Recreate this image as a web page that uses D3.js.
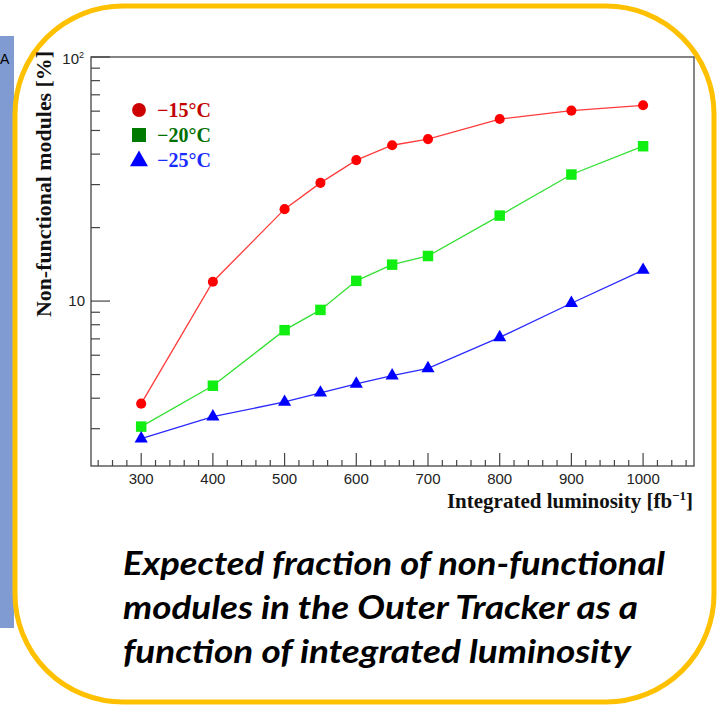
<!DOCTYPE html>
<meta charset="utf-8">
<style>
body { margin: 0; background: #fff; }
svg { display: block; }
.tick-label { font: 15px "Liberation Sans", Arial, sans-serif; fill: #222; }
.axis-title { font: bold 21px "Liberation Serif", "Times New Roman", serif; fill: #111; }
.legend text { font: bold 20px "Liberation Serif", "Times New Roman", serif; }
.caption { font: italic bold 33px Lato, "Open Sans", sans-serif; fill: #000; }
</style>
<svg width="718" height="706"></svg>
<script src="https://d3js.org/d3.v7.min.js"></script>
<script>

var svg = d3.select("svg"),
    width = +svg.attr("width"),
    height = +svg.attr("height");

// data (percent of non-functional modules)
var lumi = [300, 400, 500, 550, 600, 650, 700, 800, 900, 1000];
var minus15 = [3.8, 12.0, 23.8, 30.5, 37.8, 43.5, 46.1, 55.7, 60.3, 63.4];
var minus20 = [3.06, 4.5, 7.6, 9.2, 12.1, 14.1, 15.3, 22.4, 33.0, 43.1];
var minus25 = [2.73, 3.36, 3.86, 4.21, 4.58, 4.95, 5.3, 7.1, 9.8, 13.4];
var seriesNames = ["\u221215\u00b0C", "\u221220\u00b0C", "\u221225\u00b0C"];
var xTicks = [300, 400, 500, 600, 700, 800, 900, 1000];

var frame = {left: 91, right: 694, top: 57, bottom: 466};

// left blue strip and "A" from the slide behind
svg.append("rect")
    .attr("x", 0).attr("y", 36)
    .attr("width", 14).attr("height", 592)
    .attr("fill", "#7f9bd1");
svg.append("text")
    .attr("x", 0).attr("y", 64)
    .style("font", "14px 'Liberation Sans', Arial, sans-serif")
    .text("A");

// rounded yellow box
svg.append("rect")
    .attr("x", 15).attr("y", 6)
    .attr("width", 699).attr("height", 696)
    .attr("rx", 108).attr("ry", 108)
    .attr("fill", "#fff")
    .attr("stroke", "#ffc000")
    .attr("stroke-width", 5);

var x = d3.scaleLinear()
    .domain([230, 1071])
    .range([frame.left, frame.right]);

var y = d3.scaleLog()
    .domain([2.11, 100])
    .range([frame.bottom, frame.top]);

var g = svg.append("g");

// frame
g.append("rect")
    .attr("x", frame.left).attr("y", frame.top)
    .attr("width", frame.right - frame.left)
    .attr("height", frame.bottom - frame.top)
    .attr("fill", "none")
    .attr("stroke", "#444")
    .attr("stroke-width", 1.3);

// y axis ticks (inward)
var yMinor = d3.range(3, 10).concat(d3.range(20, 100, 10));
var yMajor = [10, 100];
g.selectAll(".ymin").data(yMinor).enter().append("line")
    .attr("x1", frame.left).attr("x2", frame.left + 9)
    .attr("y1", y).attr("y2", y)
    .attr("stroke", "#444").attr("stroke-width", 1.2);
g.selectAll(".ymaj").data(yMajor).enter().append("line")
    .attr("x1", frame.left).attr("x2", frame.left + 19)
    .attr("y1", y).attr("y2", y)
    .attr("stroke", "#444").attr("stroke-width", 1.2);

g.append("text").attr("class", "tick-label")
    .attr("x", 85).attr("y", y(10) + 5)
    .attr("text-anchor", "end")
    .text("10");
var t100 = g.append("text").attr("class", "tick-label")
    .attr("x", 84).attr("y", y(100) + 7)
    .attr("text-anchor", "end");
t100.append("tspan").text("10");
t100.append("tspan").attr("dy", -6).style("font-size", "9px").text("2");

// x axis ticks (inward)
var xMinor = d3.range(240, 1070, 20);
g.selectAll(".xmin").data(xMinor).enter().append("line")
    .attr("x1", x).attr("x2", x)
    .attr("y1", frame.bottom).attr("y2", function(d) { return frame.bottom - (d % 100 === 0 ? 13 : 6); })
    .attr("stroke", "#444").attr("stroke-width", 1.2);
g.selectAll(".xlab").data(xTicks).enter().append("text")
    .attr("class", "tick-label")
    .attr("x", x).attr("y", 484)
    .attr("text-anchor", "middle")
    .text(function(d) { return d; });

// axis titles
var xt = g.append("text").attr("class", "axis-title")
    .attr("x", 693).attr("y", 508)
    .attr("text-anchor", "end");
xt.append("tspan").text("Integrated luminosity [fb");
xt.append("tspan").attr("dy", -8).style("font-size", "13px").text("\u22121");
xt.append("tspan").attr("dy", 8).text("]");

g.append("text").attr("class", "axis-title")
    .attr("transform", "translate(51,184) rotate(-90)")
    .attr("text-anchor", "middle")
    .attr("textLength", 266)
    .attr("lengthAdjust", "spacingAndGlyphs")
    .text("Non-functional modules [%]");

// series
var series = [
  {vals: minus15, line: "#ff3b3b", mark: "#ff0000", shape: d3.symbolCircle, size: 80},
  {vals: minus20, line: "#33e033", mark: "#11ee11", shape: d3.symbolSquare, size: 110},
  {vals: minus25, line: "#2a2aff", mark: "#0000ff", shape: d3.symbolTriangle, size: 75}
];

var line = d3.line()
    .x(function(d) { return x(d[0]); })
    .y(function(d) { return y(d[1]); });

series.forEach(function(s) {
  var pts = lumi.map(function(l, i) { return [l, s.vals[i]]; });
  g.append("path")
      .attr("d", line(pts))
      .attr("fill", "none")
      .attr("stroke", s.line)
      .attr("stroke-width", 1.3);
  g.selectAll(null).data(pts).enter().append("path")
      .attr("transform", function(d) { return "translate(" + x(d[0]) + "," + y(d[1]) + ")"; })
      .attr("d", d3.symbol().type(s.shape).size(s.size))
      .attr("fill", s.mark);
});

// legend
var legendMark = ["#cc0000", "#007a00", "#0000ff"];
var legendText = ["#c00000", "#007000", "#1a2cff"];
var legendShape = [d3.symbolCircle, d3.symbolSquare, d3.symbolTriangle];
var legendSize = [150, 196, 140];
var legend = g.append("g").attr("class", "legend");
seriesNames.forEach(function(name, i) {
  var yy = 110 + i * 25;
  legend.append("path")
      .attr("transform", "translate(139," + (yy + (i === 2 ? 1 : 0)) + ")")
      .attr("d", d3.symbol().type(legendShape[i]).size(legendSize[i]))
      .attr("fill", legendMark[i]);
  legend.append("text")
      .attr("x", 157).attr("y", yy + 7)
      .attr("fill", legendText[i])
      .text(name);
});

// caption
var caption = [
  "Expected fraction of non-functional",
  "modules in the Outer Tracker as a",
  "function of integrated luminosity"
];
var capWidth = [542, 515, 508];
svg.selectAll(".caption").data(caption).enter().append("text")
    .attr("class", "caption")
    .attr("x", 123)
    .attr("y", function(d, i) { return 575 + i * 44; })
    .attr("textLength", function(d, i) { return capWidth[i]; })
    .attr("lengthAdjust", "spacingAndGlyphs")
    .text(function(d) { return d; });

</script>
